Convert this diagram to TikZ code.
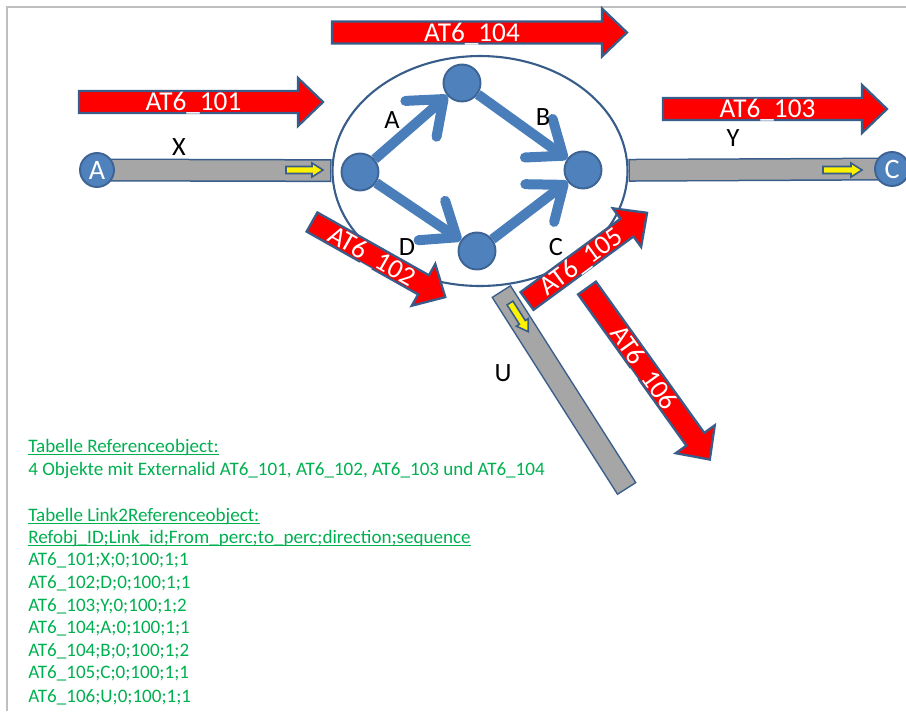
\documentclass[tikz,border=0pt]{standalone}
\usepackage{fontspec}
\setmainfont{Carlito}
\usetikzlibrary{arrows.meta, shapes.geometric, backgrounds}

\definecolor{refred}{HTML}{FF0000}
\definecolor{edgeblue}{HTML}{385D8A}
\definecolor{nodeblue}{HTML}{4F81BD}
\definecolor{flowblue}{HTML}{4A7EBB}
\definecolor{barfill}{HTML}{A6A6A6}
\definecolor{tabgreen}{HTML}{00B050}
\definecolor{framegray}{HTML}{BFBFBF}

\tikzset{
  refobj/.style={fill=refred, draw=edgeblue, line width=1.3pt, line join=miter},
  reflabel/.style={text=white, font=\fontsize{15.5}{17}\selectfont, inner sep=0pt, text height=10pt, text depth=0pt},
  dirmark/.style={fill=yellow, draw=edgeblue, line width=0.9pt},
  junction/.style={circle, fill=nodeblue, draw=edgeblue!80!nodeblue, line width=1.1pt, minimum size=0.74cm, inner sep=0pt},
  endnode/.style={junction, minimum size=0.68cm, text=white, font=\fontsize{16}{18}\selectfont},
  flow/.style={draw=flowblue, line width=0.2cm, -{Straight Barb[length=0.6cm, width=0.95cm, round]}},
  linkbar/.style={draw=edgeblue, line width=0.46cm, postaction={draw=barfill, line width=0.40cm, shorten <=0.03cm, shorten >=0.03cm}},
  linklabel/.style={font=\fontsize{15}{17}\selectfont},
  tabline/.style={anchor=base west, inner sep=0pt, text=tabgreen, font=\fontsize{10.85}{13}\selectfont},
  tabrule/.style={draw=tabgreen, line width=0.6pt},
}

% red reference object: name, tail, angle, length, label
\newcommand{\refarrow}[5]{%
  \begin{scope}[shift={#2}, rotate=#3]
    \draw[refobj] (0,-11) -- ({#4-25},-11) -- ({#4-25},-24) -- (#4,0) -- ({#4-25},24) -- ({#4-25},11) -- (0,11) -- cycle;
    \node[reflabel, rotate=#3] (#1) at ({(#4-25)/2+5},0) {#5};
  \end{scope}}

% yellow direction mark: tail, angle, length
\newcommand{\dirarrow}[3]{%
  \draw[dirmark, shift={#1}, rotate=#2] (0,-3.5) -- ({#3-11},-3.5) -- ({#3-11},-7) -- (#3,0) -- ({#3-11},7) -- ({#3-11},3.5) -- (0,3.5) -- cycle;}

\begin{document}
\begin{tikzpicture}[x=0.02cm, y=-0.02cm]
\useasboundingbox (0,0) rectangle (906,711);
\draw[framegray, line width=0.04cm] (7,711) -- (7,7) -- (906,7);

% network with its four junctions
\node[ellipse, draw=edgeblue, line width=1.2pt, minimum width=5.9cm, minimum height=4.6cm] (net) at (480,171) {};
\node[junction] (n1) at (360,172) {};
\node[junction] (n2) at (462,83) {};
\node[junction] (n3) at (583,170) {};
\node[junction] (n4) at (477,251) {};
\node[endnode] (A) at (97,170) {A};
\node[endnode] (C) at (892,169) {C};

% links X, Y, U
\begin{scope}[on background layer]
\draw[linkbar] (A.center) -- (net);
\draw[linkbar] (net) -- (C.center);
\coordinate (u1) at (501,291);
\coordinate (u2) at (627,489);
\draw[linkbar] (u1) -- (u2);
\end{scope}

\dirarrow{(286,170)}{0}{37}
\dirarrow{(823,170)}{0}{39}
\dirarrow{(510,303)}{-57.5}{34}

% links A, B, C, D inside the network
\draw[flow] (n1) -- (n2);
\draw[flow] (n2) -- (n3);
\draw[flow] (n4) -- (n3);
\draw[flow] (n1) -- (n4);

\node[linklabel] (lx) at (179,147) {X};
\node[linklabel] (ly) at (733,138) {Y};
\node[linklabel] (lu) at (503,373) {U};
\node[linklabel] (la) at (392,120) {A};
\node[linklabel] (lb) at (543,117) {B};
\node[linklabel] (ld) at (407,247) {D};
\node[linklabel] (lc) at (556,247) {C};

% reference objects
\refarrow{r101}{(79,102)}{0}{244}{AT6\_101}
\refarrow{r104}{(332,32.5)}{0}{295}{AT6\_104}
\refarrow{r103}{(663,109)}{0}{224}{AT6\_103}
\refarrow{r102}{(312,222)}{-29.4}{153}{AT6\_102}
\refarrow{r105}{(527,301)}{36.3}{149}{AT6\_105}
\refarrow{r106}{(587,288)}{-54.4}{211}{AT6\_106}

% tables
\node[tabline] (t1) at (28,452) {Tabelle Referenceobject:};
\node[tabline] (t2) at (28,475) {4 Objekte mit Externalid AT6\_101, AT6\_102, AT6\_103 und AT6\_104};
\node[tabline] (t3) at (28,521) {Tabelle Link2Referenceobject:};
\node[tabline] (t4) at (28,543) {Refobj\_ID;Link\_id;From\_perc;to\_perc;direction;sequence};
\node[tabline] (t5) at (28,565) {AT6\_101;X;0;100;1;1};
\node[tabline] (t6) at (28,588) {AT6\_102;D;0;100;1;1};
\node[tabline] (t7) at (28,611) {AT6\_103;Y;0;100;1;2};
\node[tabline] (t8) at (28,633) {AT6\_104;A;0;100;1;1};
\node[tabline] (t9) at (28,656) {AT6\_104;B;0;100;1;2};
\node[tabline] (t10) at (28,678) {AT6\_105;C;0;100;1;1};
\node[tabline] (t11) at (28,702) {AT6\_106;U;0;100;1;1};
\draw[tabrule] ([yshift=-1.3pt]t1.base west) -- ([yshift=-1.3pt]t1.base east);
\draw[tabrule] ([yshift=-1.3pt]t3.base west) -- ([yshift=-1.3pt]t3.base east);
\draw[tabrule] ([yshift=-1.3pt]t4.base west) -- ([yshift=-1.3pt]t4.base east);
\end{tikzpicture}
\end{document}
